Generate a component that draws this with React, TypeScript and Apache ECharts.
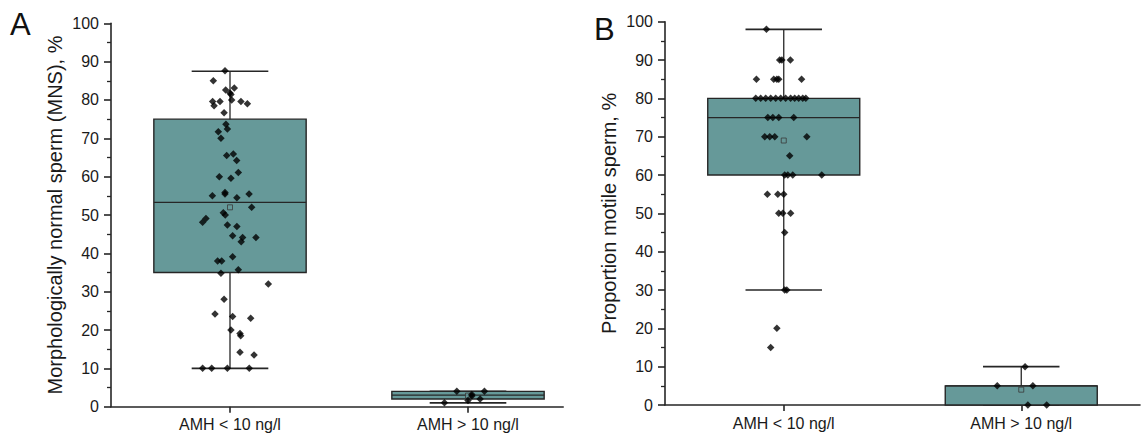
import React, { useEffect, useRef } from "react";
import * as echarts from "echarts";

const categories = ["AMH < 10 ng/l", "AMH > 10 ng/l"];
const yNameA = "Morphologically normal sperm (MNS), %";
const yNameB = "Proportion motile sperm, %";

// [category, lowWhisker, q1, median, q3, highWhisker]
const mnsBoxes = [
  [1, 10, 35, 53.3, 75, 87.5],
  [2, 1, 2, 3, 4, 4],
];
const mnsMeans = [
  [1, 52],
  [2, 2.9],
];
// [jitter, value]
const mnsLowPts = [
  [-0.021, 87.6], [-0.07, 85], [-0.018, 82.6], [0.018, 83.1], [0, 81.8], [0.004, 81.4],
  [0.007, 80], [-0.073, 79.6], [-0.042, 79.6], [-0.067, 78.5], [0.046, 79.6], [0.073, 79],
  [-0.025, 76.7], [-0.017, 73.7], [-0.011, 72.4], [-0.049, 71.7], [-0.038, 70], [-0.014, 65.5],
  [0.014, 65.9], [0.028, 64.2], [0.035, 61.1], [-0.045, 60], [0.004, 59.6], [-0.074, 55],
  [-0.021, 55.9], [-0.021, 55.5], [0.029, 54.5], [0.08, 55.5], [0.091, 52], [-0.101, 49.1],
  [-0.115, 48.1], [-0.028, 50.6], [-0.02, 50], [-0.011, 47.4], [0.029, 47], [0.011, 44.6],
  [0.053, 44.1], [0.047, 43], [0.109, 44.1], [-0.052, 38], [-0.035, 38], [0.011, 39.1],
  [0.035, 35.7], [-0.038, 34.8], [0.161, 32], [-0.025, 28], [-0.063, 24.2], [0.011, 23.5],
  [0.087, 23.1], [0.004, 20], [0.042, 19.1], [0.045, 18.5], [0.042, 14.2], [0.101, 13.5],
  [-0.115, 10], [-0.077, 10], [-0.011, 10], [0.081, 10],
];
const mnsHighPts = [
  [-0.047, 4], [0.069, 4], [0.016, 3.2], [0.016, 2.8], [0.051, 2], [0, 1.6], [-0.099, 1],
];

const motBoxes = [
  [1, 30, 60, 75, 80, 98],
  [2, 0, 0, 5, 5, 10],
];
const motMeans = [
  [1, 69],
  [2, 4],
];
const motLowPts = [
  [-0.073, 98],
  [-0.017, 90], [-0.008, 90], [0.028, 90],
  [-0.115, 85], [-0.042, 85], [-0.029, 85], [-0.021, 85], [0.075, 85],
  [-0.118, 80], [-0.097, 80], [-0.076, 80], [-0.055, 80], [-0.034, 80], [-0.013, 80],
  [0.008, 80], [0.029, 80], [0.046, 80], [0.063, 80], [0.08, 80], [0.093, 80],
  [-0.067, 75], [-0.046, 75], [-0.021, 75], [0.042, 75],
  [-0.08, 70], [-0.059, 70], [-0.038, 70], [0.097, 70],
  [0.025, 65],
  [0.004, 60], [0.017, 60], [0.038, 60], [0.16, 60],
  [-0.069, 55], [-0.025, 55], [0, 55],
  [-0.021, 50], [-0.004, 50], [0.029, 50],
  [0.004, 45],
  [0.004, 30], [0.013, 30],
  [-0.029, 20],
  [-0.055, 15],
];
const motHighPts = [
  [0.016, 10], [-0.101, 5], [0.049, 5], [0.028, 0], [0.107, 0],
];

const FONT = "Liberation Sans, Arial, sans-serif";
const BOX_FILL = "#669999";
const LINE = "#262626";
const BOX_HALF = 0.32;
const CAP_HALF = 0.161;

const renderBox = (params: any, api: any) => {
  const x = api.value(0);
  const lo = api.coord([x, api.value(1)]);
  const q1 = api.coord([x, api.value(2)]);
  const med = api.coord([x, api.value(3)]);
  const q3 = api.coord([x, api.value(4)]);
  const hi = api.coord([x, api.value(5)]);
  const hb = api.size([BOX_HALF, 0])[0];
  const hc = api.size([CAP_HALF, 0])[0];
  const cx = lo[0];
  const ls = { stroke: LINE, lineWidth: 1.3 };
  return {
    type: "group",
    children: [
      { type: "line", shape: { x1: cx, y1: hi[1], x2: cx, y2: lo[1] }, style: ls },
      { type: "line", shape: { x1: cx - hc, y1: hi[1], x2: cx + hc, y2: hi[1] }, style: { stroke: LINE, lineWidth: 1.6 } },
      { type: "line", shape: { x1: cx - hc, y1: lo[1], x2: cx + hc, y2: lo[1] }, style: { stroke: LINE, lineWidth: 1.6 } },
      {
        type: "rect",
        shape: { x: cx - hb, y: q3[1], width: 2 * hb, height: q1[1] - q3[1] },
        style: { fill: BOX_FILL, stroke: LINE, lineWidth: 1.4 },
      },
      { type: "line", shape: { x1: cx - hb, y1: med[1], x2: cx + hb, y2: med[1] }, style: ls },
    ],
  };
};

const jitter = (pts: number[][], cat: number) => pts.map(([j, v]) => [cat + j, v]);

const makeX = (idx: number, max: number) => ({
  type: "value",
  gridIndex: idx,
  min: 0.5,
  max,
  splitLine: { show: false },
  axisLine: { show: true, onZero: false, lineStyle: { color: LINE, width: 1.6 } },
  axisTick: { show: true, customValues: [1, 2], length: 6, lineStyle: { color: LINE, width: 1.6 } },
  axisLabel: {
    customValues: [1, 2],
    formatter: (v: number) => categories[Math.round(v) - 1],
    fontSize: 16,
    color: "#1a1a1a",
    fontFamily: FONT,
    margin: 10,
  },
});

const makeY = (idx: number, name: string) => ({
  type: "value",
  gridIndex: idx,
  min: 0,
  max: 100,
  interval: 10,
  name,
  nameLocation: "middle",
  nameGap: 46,
  nameTextStyle: { fontSize: 20, color: "#1a1a1a", fontFamily: FONT },
  splitLine: { show: false },
  axisLine: { show: true, lineStyle: { color: LINE, width: 1.6 } },
  axisTick: { show: true, length: 7, lineStyle: { color: LINE, width: 1.6 } },
  minorTick: { show: true, splitNumber: 2, length: 4, lineStyle: { color: LINE, width: 1.3 } },
  axisLabel: { fontSize: 16, color: "#1a1a1a", fontFamily: FONT, margin: 12 },
});

const panelSeries = (idx: number, boxes: number[][], means: number[][], lowPts: number[][], highPts: number[][]) => [
  {
    type: "custom",
    xAxisIndex: idx,
    yAxisIndex: idx,
    renderItem: renderBox,
    data: boxes,
    encode: { x: 0, y: [1, 2, 3, 4, 5] },
    z: 2,
  },
  {
    type: "scatter",
    xAxisIndex: idx,
    yAxisIndex: idx,
    symbol: "rect",
    symbolSize: 5,
    itemStyle: { color: BOX_FILL, borderColor: "#3a3a3a", borderWidth: 1 },
    data: means,
    z: 3,
  },
  {
    type: "scatter",
    xAxisIndex: idx,
    yAxisIndex: idx,
    symbol: "diamond",
    symbolSize: 7.5,
    itemStyle: { color: "#000" },
    data: [...jitter(lowPts, 1), ...jitter(highPts, 2)],
    z: 4,
  },
];

export default function App() {
  const ref = useRef<HTMLDivElement>(null);
  useEffect(() => {
    if (!ref.current) return;
    const chart = echarts.init(ref.current, undefined, { renderer: "svg" });
    chart.setOption({
      animation: false,
      backgroundColor: "#fff",
      textStyle: { fontFamily: FONT },
      grid: [
        { left: 111, top: 23.3, width: 452.2, height: 383.4 },
        { left: 665, top: 21.7, width: 475, height: 383.3 },
      ],
      xAxis: [makeX(0, 2.4), makeX(1, 2.5)],
      yAxis: [makeY(0, yNameA), makeY(1, yNameB)],
      graphic: [
        { type: "text", left: 10, top: 9, style: { text: "A", fontSize: 31, fontFamily: FONT, fill: "#111" } },
        { type: "text", left: 594, top: 14, style: { text: "B", fontSize: 31, fontFamily: FONT, fill: "#111" } },
      ],
      series: [
        ...panelSeries(0, mnsBoxes, mnsMeans, mnsLowPts, mnsHighPts),
        ...panelSeries(1, motBoxes, motMeans, motLowPts, motHighPts),
      ],
    });
    return () => chart.dispose();
  }, []);
  return (
    <div
      ref={ref}
      style={{ position: "fixed", left: 0, top: 0, width: 1144, height: 437, background: "#fff" }}
    />
  );
}
